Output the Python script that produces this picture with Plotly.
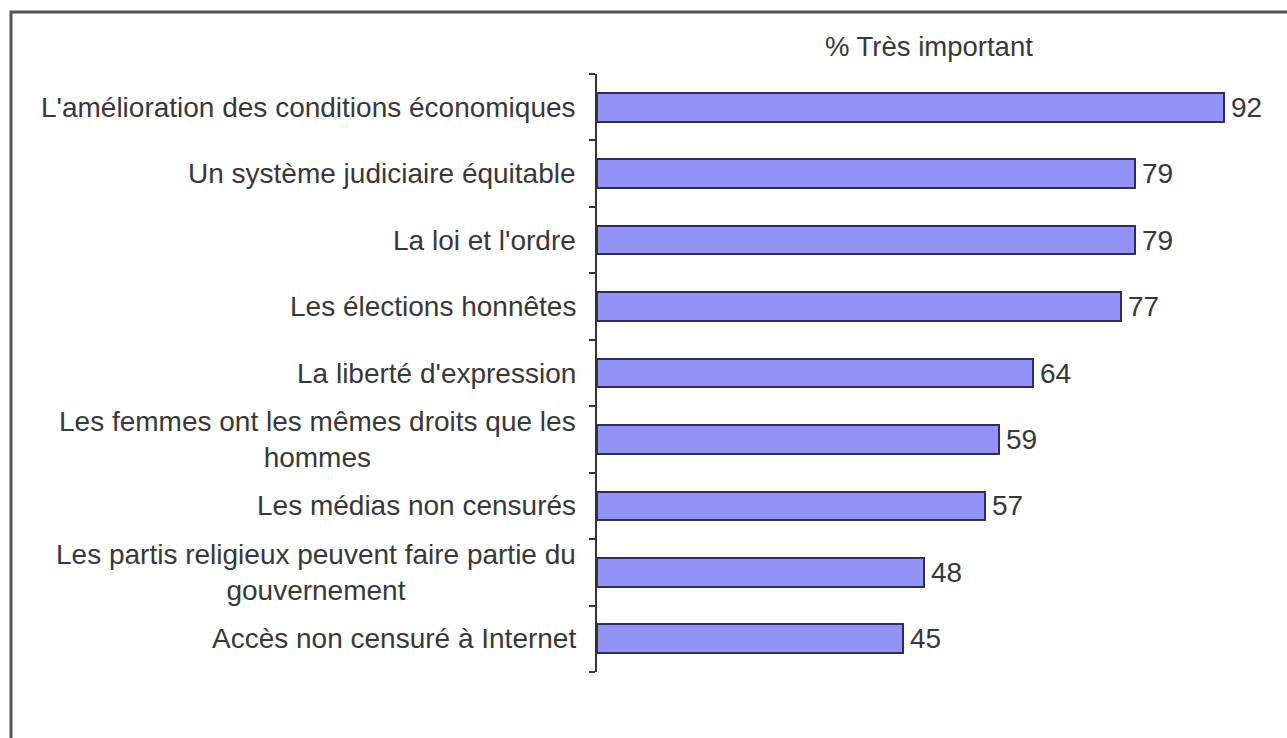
import plotly.graph_objects as go

categories = [
    "L'amélioration des conditions économiques",
    "Un système judiciaire équitable",
    "La loi et l'ordre",
    "Les élections honnêtes",
    "La liberté d'expression",
    "Les femmes ont les mêmes droits que les<br>hommes",
    "Les médias non censurés",
    "Les partis religieux peuvent faire partie du<br>gouvernement",
    "Accès non censuré à Internet",
]
values = [92, 79, 79, 77, 64, 59, 57, 48, 45]
title_text = "% Très important"

W, H = 1287, 738
ML, MR, MT, MB = 597, 9, 74, 66
pw = W - ML - MR
ph = H - MT - MB

def px_x(x):
    return (x - ML) / pw

def px_y(y):
    return (H - MB - y) / ph

FONT = "Liberation Sans, Arial, sans-serif"
TXT = "#383838"

fig = go.Figure()
fig.add_trace(go.Bar(
    y=categories,
    x=values,
    orientation="h",
    width=0.43,
    marker=dict(color="#9393f7", line=dict(color="#2e2e5e", width=2)),
    hoverinfo="x+y",
))

annotations = []
for c in categories:
    annotations.append(dict(
        x=px_x(578), xref="paper", y=c, yref="y",
        text=c, showarrow=False, xanchor="right", yanchor="middle", align="center",
        font=dict(family=FONT, size=28, color=TXT),
    ))
for c, v in zip(categories, values):
    annotations.append(dict(
        x=v, xref="x", y=c, yref="y",
        text=str(v), showarrow=False, xanchor="left", yanchor="middle",
        xshift=5, font=dict(family=FONT, size=28, color=TXT),
    ))
annotations.append(dict(
    x=px_x(929), xref="paper", y=px_y(46), yref="paper",
    text=title_text, showarrow=False, xanchor="center", yanchor="middle",
    font=dict(family=FONT, size=27.5, color=TXT),
))

fig.update_layout(
    width=W, height=H,
    margin=dict(l=ML, r=MR, t=MT, b=MB),
    paper_bgcolor="white", plot_bgcolor="white",
    showlegend=False,
    bargap=0,
    xaxis=dict(range=[0, 100], visible=False, fixedrange=True),
    yaxis=dict(
        categoryorder="array", categoryarray=categories[::-1],
        showticklabels=False,
        showline=True, linecolor="#333333", linewidth=2,
        ticks="outside", ticklen=6, tickcolor="#333333", tickwidth=2,
        tickson="boundaries",
        showgrid=False, zeroline=False, fixedrange=True,
    ),
    annotations=annotations,
    shapes=[dict(
        type="path", xref="paper", yref="paper",
        path=f"M {px_x(11)},{px_y(760)} L {px_x(11)},{px_y(12)} L {px_x(1300)},{px_y(12)}",
        line=dict(color="#555555", width=3),
    )],
)

fig.write_html("out.html", config={"displayModeBar": False},
               post_script="document.body.style.margin='0px';")
